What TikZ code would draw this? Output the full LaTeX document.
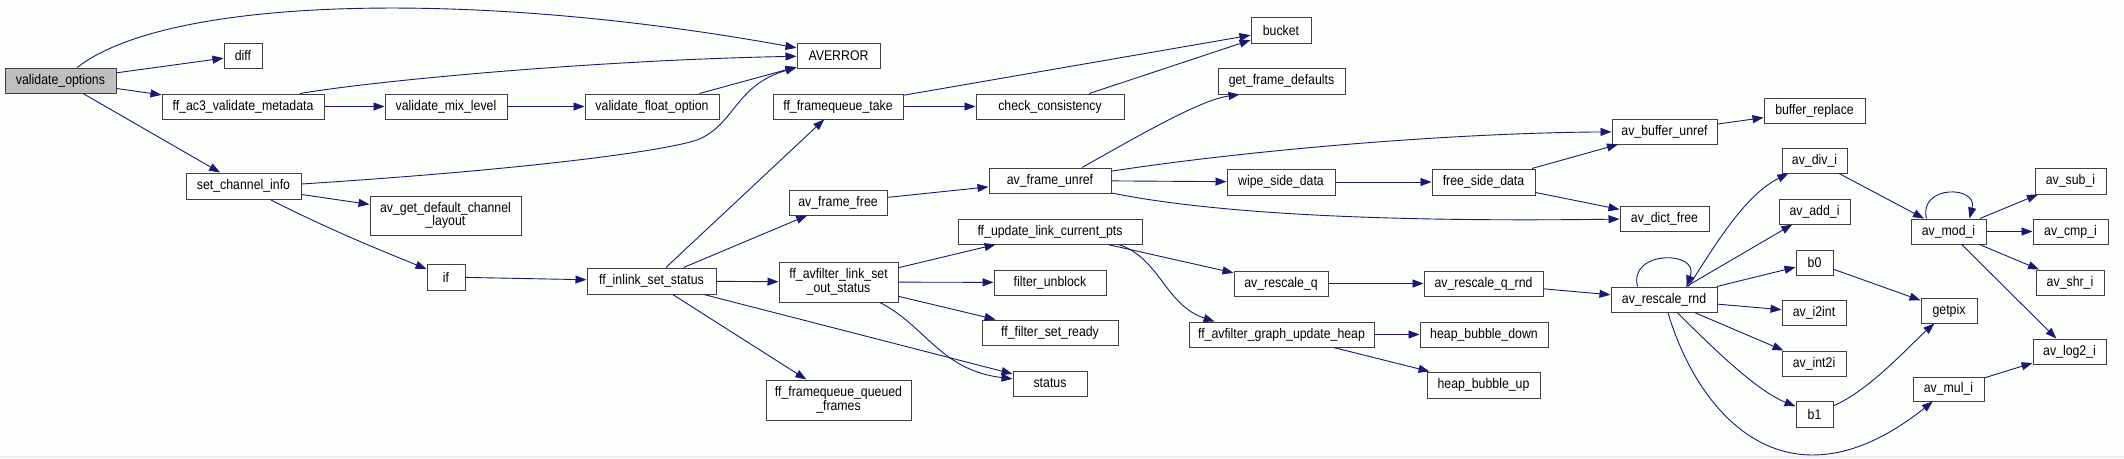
\documentclass[tikz,border=0pt]{standalone}
\usepackage{fontspec}
\setmainfont{Liberation Sans}[FakeStretch=0.88]
\usetikzlibrary{arrows.meta,calc}
\definecolor{callblue}{HTML}{191970}
\definecolor{nodeborder}{HTML}{404040}
\definecolor{rootfill}{HTML}{BFBFBF}
\definecolor{bgcol}{HTML}{FCFEFC}
\begin{document}
\begin{tikzpicture}[x=1pt,y=-1pt,
  fn/.style={draw=nodeborder, line width=1pt, fill=white, inner sep=0pt,
    font=\fontsize{14}{13.5}\selectfont, align=center},
  root/.style={fn, fill=rootfill},
  call/.style={draw=callblue, line width=0.9pt, -{Triangle[length=11pt,width=8pt]}}]
\useasboundingbox (0,0) rectangle (2124,458);
\fill[bgcol] (0,0) rectangle (2124,458);
\fill[gray!12] (0,456) rectangle (2124,458);

\node[root,minimum width=111pt,minimum height=25pt] (vo) at (60.5,80.5) {validate\_options};
\node[fn,minimum width=38pt,minimum height=25pt] (diff) at (243,55.5) {diff};
\node[fn,minimum width=83pt,minimum height=25pt] (averror) at (838.5,55.5) {AVERROR};
\node[fn,minimum width=162pt,minimum height=25pt] (ac3) at (243,106.5) {ff\_ac3\_validate\_metadata};
\node[fn,minimum width=122pt,minimum height=25pt] (vml) at (446,106.5) {validate\_mix\_level};
\node[fn,minimum width=134pt,minimum height=25pt] (vfo) at (652,106.5) {validate\_float\_option};
\node[fn,minimum width=115pt,minimum height=26pt] (sci) at (243.5,186) {set\_channel\_info};
\node[fn,minimum width=151pt,minimum height=39pt] (agdcl) at (445.5,215.5) {av\_get\_default\_channel\\\_layout};
\node[fn,minimum width=38pt,minimum height=26pt] (if) at (446,277) {if};
\node[fn,minimum width=129pt,minimum height=26pt] (fis) at (651.5,281) {ff\_inlink\_set\_status};
\node[fn,minimum width=130pt,minimum height=25pt] (fqt) at (838,106.5) {ff\_framequeue\_take};
\node[fn,minimum width=98pt,minimum height=25pt] (aff) at (838,202.5) {av\_frame\_free};
\node[fn,minimum width=119pt,minimum height=40pt] (falsos) at (838.5,282) {ff\_avfilter\_link\_set\\\_out\_status};
\node[fn,minimum width=145pt,minimum height=40pt] (fqqf) at (838.5,400) {ff\_framequeue\_queued\\\_frames};
\node[fn,minimum width=148pt,minimum height=25pt] (cc) at (1050,106.5) {check\_consistency};
\node[fn,minimum width=122pt,minimum height=25pt] (afu) at (1050,180.5) {av\_frame\_unref};
\node[fn,minimum width=184pt,minimum height=25pt] (fulcp) at (1050,231.5) {ff\_update\_link\_current\_pts};
\node[fn,minimum width=112pt,minimum height=25pt] (fu) at (1050,282.5) {filter\_unblock};
\node[fn,minimum width=136pt,minimum height=25pt] (fsr) at (1050,332.5) {ff\_filter\_set\_ready};
\node[fn,minimum width=74pt,minimum height=25pt] (status) at (1050,383.5) {status};
\node[fn,minimum width=60pt,minimum height=26pt] (bucket) at (1281,30) {bucket};
\node[fn,minimum width=127pt,minimum height=26pt] (gfd) at (1281.5,81) {get\_frame\_defaults};
\node[fn,minimum width=108pt,minimum height=26pt] (wsd) at (1281,182) {wipe\_side\_data};
\node[fn,minimum width=94pt,minimum height=25pt] (arq) at (1281,283.5) {av\_rescale\_q};
\node[fn,minimum width=185pt,minimum height=25pt] (fguh) at (1281.5,334.5) {ff\_avfilter\_graph\_update\_heap};
\node[fn,minimum width=103pt,minimum height=26pt] (fsd) at (1483.5,182) {free\_side\_data};
\node[fn,minimum width=119pt,minimum height=25pt] (arqr) at (1483.5,283.5) {av\_rescale\_q\_rnd};
\node[fn,minimum width=128pt,minimum height=25pt] (hbd) at (1484,334.5) {heap\_bubble\_down};
\node[fn,minimum width=113pt,minimum height=26pt] (hbu) at (1483.5,385) {heap\_bubble\_up};
\node[fn,minimum width=105pt,minimum height=25pt] (abu) at (1664.5,131.5) {av\_buffer\_unref};
\node[fn,minimum width=89pt,minimum height=25pt] (adf) at (1664.5,218.5) {av\_dict\_free};
\node[fn,minimum width=106pt,minimum height=25pt] (arr) at (1664,299.5) {av\_rescale\_rnd};
\node[fn,minimum width=101pt,minimum height=25pt] (br) at (1814.5,110.5) {buffer\_replace};
\node[fn,minimum width=65pt,minimum height=25pt] (adiv) at (1814.5,160.5) {av\_div\_i};
\node[fn,minimum width=71pt,minimum height=25pt] (aadd) at (1814.5,211.5) {av\_add\_i};
\node[fn,minimum width=37pt,minimum height=25pt] (b0) at (1814.5,262.5) {b0};
\node[fn,minimum width=64pt,minimum height=25pt] (ai2) at (1814,312.5) {av\_i2int};
\node[fn,minimum width=64pt,minimum height=25pt] (aint) at (1814,363.5) {av\_int2i};
\node[fn,minimum width=37pt,minimum height=26pt] (b1) at (1814.5,414) {b1};
\node[fn,minimum width=75pt,minimum height=25pt] (amod) at (1948.5,231.5) {av\_mod\_i};
\node[fn,minimum width=56pt,minimum height=25pt] (getpix) at (1949,310.5) {getpix};
\node[fn,minimum width=71pt,minimum height=24pt] (amul) at (1948.5,389) {av\_mul\_i};
\node[fn,minimum width=71pt,minimum height=26pt] (asub) at (2070.5,181) {av\_sub\_i};
\node[fn,minimum width=75pt,minimum height=25pt] (acmp) at (2070.5,231.5) {av\_cmp\_i};
\node[fn,minimum width=68pt,minimum height=25pt] (ashr) at (2070,282.5) {av\_shr\_i};
\node[fn,minimum width=73pt,minimum height=25pt] (alog) at (2069.5,351.5) {av\_log2\_i};

\draw[call] (vo) .. controls (170,-5) and (480,-10) .. (averror);
\draw[call] (vo) -- (diff);
\draw[call] (vo) -- (ac3);
\draw[call] (vo) -- (sci);
\draw[call] ($(ac3.north)+(57,0)$) .. controls (380,80) and (600,60) .. (averror);
\draw[call] (ac3) -- (vml);
\draw[call] (vml) -- (vfo);
\draw[call] (vfo) -- (averror);
\draw[call] ($(sci.east)+(0,-2)$) .. controls (520,170) and (660,152) .. (697,140) .. controls (735,125) and (735,85) .. (averror);
\draw[call] (sci) -- (agdcl);
\draw[call] (sci) .. controls (330,230) and (380,250) .. (if);
\draw[call] (if) -- (fis);
\draw[call] (fis) -- (fqt);
\draw[call] (fis) -- (aff);
\draw[call] (fis) -- (falsos);
\draw[call] (fis) -- (status);
\draw[call] (fis) -- (fqqf);
\draw[call] (fqt) -- (bucket);
\draw[call] (fqt) -- (cc);
\draw[call] (cc) -- (bucket);
\draw[call] (aff) -- (afu);
\draw[call] ($(afu.north)+(32,0)$) .. controls (1140,135) and (1200,100) .. ($(gfd.south west)+(22,0)$);
\draw[call] (afu) .. controls (1250,150) and (1450,133) .. (abu);
\draw[call] (afu) -- (wsd);
\draw[call] (afu) .. controls (1220,215) and (1400,222) .. (adf);
\draw[call] (wsd) -- (fsd);
\draw[call] (fsd) -- (abu);
\draw[call] (fsd) -- (adf);
\draw[call] (falsos) -- (fulcp);
\draw[call] (falsos) -- (fu);
\draw[call] (falsos) -- (fsr);
\draw[call] (falsos) .. controls (925,325) and (940,370) .. (status);
\draw[call] (fulcp) -- (arq);
\draw[call] ($(fulcp.south east)+(-24,0)$) .. controls (1160,258) and (1165,305) .. ($(fguh.north west)+(26,0)$);
\draw[call] (arq) -- (arqr);
\draw[call] (arqr) -- (arr);
\draw[call] (fguh) -- (hbd);
\draw[call] (fguh) -- (hbu);
\draw[call] (abu) -- (br);
\draw[call] ($(arr.north west)+(27,0)$) .. controls (1628,250) and (1700,250) .. ($(arr.north west)+(76,0)$);
\draw[call] ($(arr.north west)+(78,0)$) .. controls (1715,245) and (1745,195) .. (adiv);
\draw[call] (arr) -- (aadd);
\draw[call] (arr) -- (b0);
\draw[call] (arr) -- (ai2);
\draw[call] (arr) -- (aint);
\draw[call] (arr) .. controls (1710,345) and (1755,390) .. (b1);
\draw[call] (arr) .. controls (1700,420) and (1790,515) .. (amul);
\draw[call] (adiv) -- (amod);
\draw[call] ($(amod.north west)+(16,0)$) .. controls (1918,185) and (1978,185) .. ($(amod.north west)+(59,0)$);
\draw[call] (amod) -- (asub);
\draw[call] (amod) -- (acmp);
\draw[call] (amod) -- (ashr);
\draw[call] (amod) -- (alog);
\draw[call] (b0) -- (getpix);
\draw[call] (b1) .. controls (1870,390) and (1910,345) .. (getpix);
\draw[call] (amul) -- (alog);
\end{tikzpicture}
\end{document}
